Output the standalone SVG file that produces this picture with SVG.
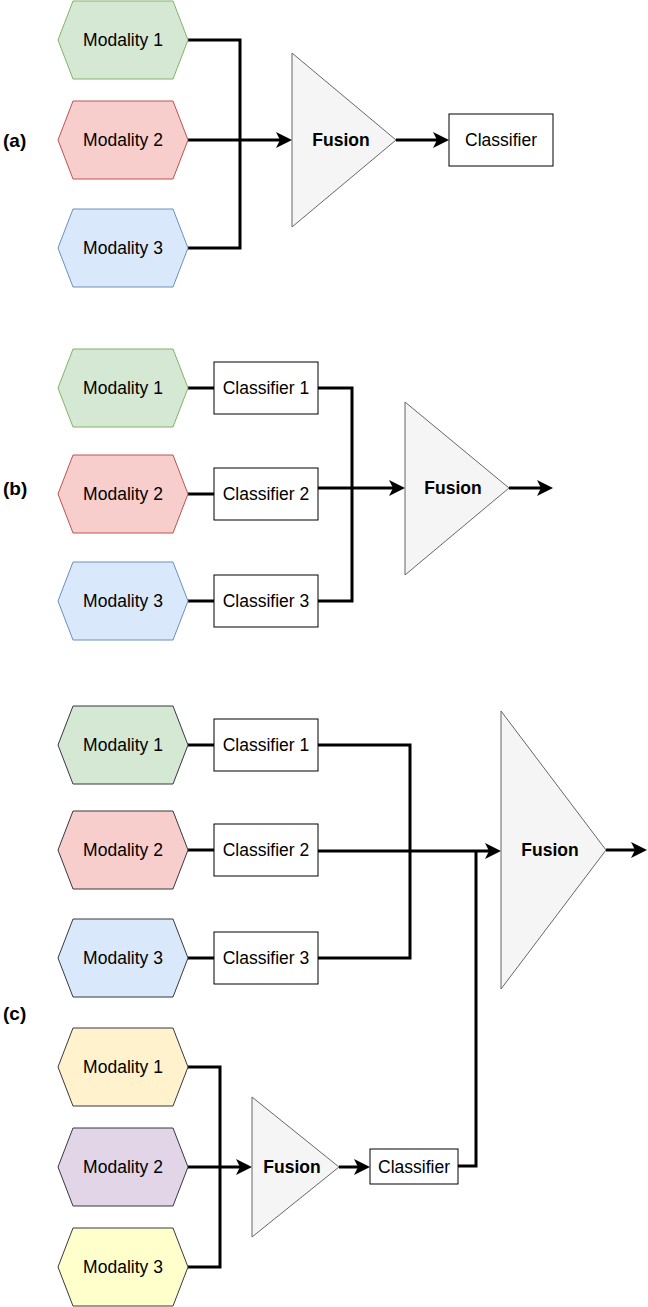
<svg xmlns="http://www.w3.org/2000/svg" width="648" height="1307" viewBox="0 0 648 1307">
<style>
text{font-family:"Liberation Sans",Arial,Helvetica,sans-serif;font-size:17.5px;fill:#000}
.c{text-anchor:middle}
.b{font-weight:bold}
.lab{font-weight:bold;font-size:19px}
.hg{fill:#d5e8d4;stroke:#82b366;stroke-width:1}
.hr{fill:#f8cecc;stroke:#b85450;stroke-width:1}
.hb{fill:#dae8fc;stroke:#6c8ebf;stroke-width:1}
.dg{fill:#d5e8d4;stroke:#36393d;stroke-width:1}
.dr{fill:#f8cecc;stroke:#36393d;stroke-width:1}
.db{fill:#dae8fc;stroke:#36393d;stroke-width:1}
.dy{fill:#fff2cc;stroke:#36393d;stroke-width:1}
.dp{fill:#e1d5e7;stroke:#36393d;stroke-width:1}
.dl{fill:#ffffcc;stroke:#36393d;stroke-width:1}
.box{fill:#fff;stroke:#000;stroke-width:1}
.fus{fill:#f5f5f5;stroke:#666;stroke-width:1}
.ln{fill:none;stroke:#000;stroke-width:3}
.ar{fill:none;stroke:#000;stroke-width:3;marker-end:url(#arr)}
</style>
<defs>
<marker id="arr" markerUnits="userSpaceOnUse" markerWidth="16" markerHeight="16" refX="6" refY="8" orient="auto">
<path d="M0,0 L16,8 L0,16 L4,8 Z" fill="#000"/>
</marker>
</defs>
<rect width="648" height="1307" fill="#fff"/>

<g id="labels">
<text class="lab" x="3" y="147">(a)</text>
<text class="lab" x="3" y="495">(b)</text>
<text class="lab" x="3" y="1020">(c)</text>
</g>

<g id="connectors">
<!-- (a) -->
<polyline class="ln" points="188,40 240,40 240,248 188,248"/>
<line class="ar" x1="188" y1="140" x2="282" y2="140"/>
<line class="ar" x1="396" y1="140" x2="439" y2="140"/>
<!-- (b) -->
<line class="ln" x1="188" y1="388" x2="214" y2="388"/>
<line class="ln" x1="188" y1="494" x2="214" y2="494"/>
<line class="ln" x1="188" y1="601" x2="214" y2="601"/>
<polyline class="ln" points="318,388 352,388 352,601 318,601"/>
<line class="ar" x1="318" y1="488" x2="395" y2="488"/>
<line class="ar" x1="509" y1="488" x2="543" y2="488"/>
<!-- (c) top -->
<line class="ln" x1="188" y1="745" x2="214" y2="745"/>
<line class="ln" x1="188" y1="850" x2="214" y2="850"/>
<line class="ln" x1="188" y1="958" x2="214" y2="958"/>
<polyline class="ln" points="318,745 410,745 410,958 318,958"/>
<line class="ar" x1="318" y1="851" x2="491" y2="851"/>
<polyline class="ln" points="458,1166 476,1166 476,851"/>
<line class="ar" x1="606" y1="850" x2="637" y2="850"/>
<!-- (c) bottom -->
<polyline class="ln" points="188,1067 220,1067 220,1267 188,1267"/>
<line class="ar" x1="188" y1="1167" x2="242" y2="1167"/>
<line class="ar" x1="339" y1="1167" x2="360" y2="1167"/>
</g>

<!-- (a) nodes -->
<g id="a-mod1"><polygon class="hg" points="73,1 173,1 188,40 173,79 73,79 58,40"/><text class="c" x="123" y="46">Modality 1</text></g>
<g id="a-mod2"><polygon class="hr" points="73,101 173,101 188,140 173,179 73,179 58,140"/><text class="c" x="123" y="146">Modality 2</text></g>
<g id="a-mod3"><polygon class="hb" points="73,209 173,209 188,248 173,287 73,287 58,248"/><text class="c" x="123" y="254">Modality 3</text></g>
<g id="a-fusion"><polygon class="fus" points="292,53 292,227 396,140"/><text class="c b" x="341" y="146">Fusion</text></g>
<g id="a-classifier"><rect class="box" x="449" y="114" width="104" height="52"/><text class="c" x="501" y="146">Classifier</text></g>

<!-- (b) nodes -->
<g id="b-mod1"><polygon class="hg" points="73,349 173,349 188,388 173,427 73,427 58,388"/><text class="c" x="123" y="394">Modality 1</text></g>
<g id="b-mod2"><polygon class="hr" points="73,455 173,455 188,494 173,533 73,533 58,494"/><text class="c" x="123" y="500">Modality 2</text></g>
<g id="b-mod3"><polygon class="hb" points="73,562 173,562 188,601 173,640 73,640 58,601"/><text class="c" x="123" y="607">Modality 3</text></g>
<g id="b-cls1"><rect class="box" x="214" y="362" width="104" height="52"/><text class="c" x="266" y="394">Classifier 1</text></g>
<g id="b-cls2"><rect class="box" x="214" y="468" width="104" height="52"/><text class="c" x="266" y="500">Classifier 2</text></g>
<g id="b-cls3"><rect class="box" x="214" y="575" width="104" height="52"/><text class="c" x="266" y="607">Classifier 3</text></g>
<g id="b-fusion"><polygon class="fus" points="405,402 405,575 509,488"/><text class="c b" x="453" y="494">Fusion</text></g>

<!-- (c) top nodes -->
<g id="c-mod1"><polygon class="dg" points="73,706 173,706 188,745 173,784 73,784 58,745"/><text class="c" x="123" y="751">Modality 1</text></g>
<g id="c-mod2"><polygon class="dr" points="73,811 173,811 188,850 173,889 73,889 58,850"/><text class="c" x="123" y="856">Modality 2</text></g>
<g id="c-mod3"><polygon class="db" points="73,919 173,919 188,958 173,997 73,997 58,958"/><text class="c" x="123" y="964">Modality 3</text></g>
<g id="c-cls1"><rect class="box" x="214" y="719" width="104" height="52"/><text class="c" x="266" y="751">Classifier 1</text></g>
<g id="c-cls2"><rect class="box" x="214" y="824" width="104" height="52"/><text class="c" x="266" y="856">Classifier 2</text></g>
<g id="c-cls3"><rect class="box" x="214" y="932" width="104" height="52"/><text class="c" x="266" y="964">Classifier 3</text></g>
<g id="c-fusion"><polygon class="fus" points="501,711 501,989 606,850"/><text class="c b" x="550" y="856">Fusion</text></g>

<!-- (c) bottom nodes -->
<g id="c-mod1b"><polygon class="dy" points="73,1028 173,1028 188,1067 173,1106 73,1106 58,1067"/><text class="c" x="123" y="1073">Modality 1</text></g>
<g id="c-mod2b"><polygon class="dp" points="73,1128 173,1128 188,1167 173,1206 73,1206 58,1167"/><text class="c" x="123" y="1173">Modality 2</text></g>
<g id="c-mod3b"><polygon class="dl" points="73,1228 173,1228 188,1267 173,1306 73,1306 58,1267"/><text class="c" x="123" y="1273">Modality 3</text></g>
<g id="c-fusion-small"><polygon class="fus" points="252,1097 252,1237 339,1167"/><text class="c b" x="292" y="1173">Fusion</text></g>
<g id="c-classifier"><rect class="box" x="370" y="1149" width="88" height="35"/><text class="c" x="414" y="1173">Classifier</text></g>
</svg>
